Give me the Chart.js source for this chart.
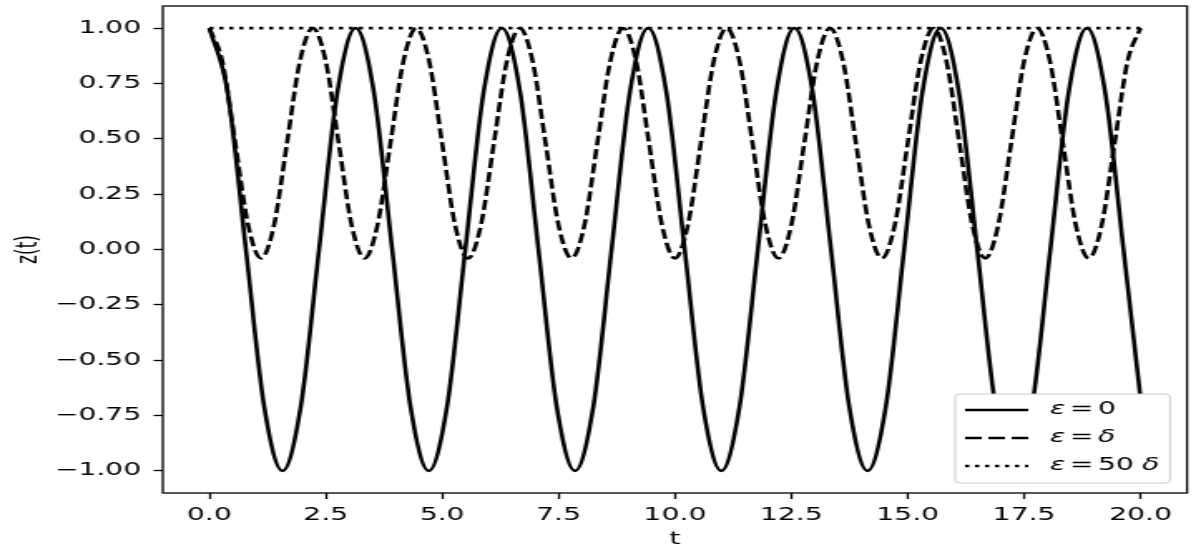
<!DOCTYPE html>
<html>
<head>
<meta charset="utf-8">
<script src="https://cdn.jsdelivr.net/npm/chart.js@4"></script>
<style>
  html, body { margin: 0; padding: 0; background: #fff; overflow: hidden; }
  /* the reference figure is stretched sideways, so draw narrow and widen */
  #wrap { width: 720px; height: 550px; transform: scaleX(1.66111); transform-origin: 0 0; }
  canvas { display: block; }
</style>
</head>
<body>
<div id="wrap"><canvas id="canvas" width="720" height="550"></canvas></div>
<script>
// epsilon = 0
const tSolid = [0, 0.393, 0.785, 1.178, 1.571, 1.963, 2.356, 2.749, 3.142, 3.534, 3.927, 4.320, 4.712,
  5.105, 5.498, 5.890, 6.283, 6.676, 7.069, 7.461, 7.854, 8.247, 8.639, 9.032, 9.425, 9.817, 10.210,
  10.603, 10.996, 11.388, 11.781, 12.174, 12.566, 12.959, 13.352, 13.744, 14.137, 14.530, 14.923,
  15.315, 15.708, 16.101, 16.493, 16.886, 17.279, 17.671, 18.064, 18.457, 18.850, 19.242, 19.635, 20.0];
const zSolid = [1, 0.71, 0, -0.71, -1, -0.71, 0, 0.71,
  1, 0.71, 0, -0.71, -1, -0.71, 0, 0.71,
  1, 0.71, 0, -0.71, -1, -0.71, 0, 0.71,
  1, 0.71, 0, -0.71, -1, -0.71, 0, 0.71,
  1, 0.71, 0, -0.71, -1, -0.71, 0, 0.71,
  1, 0.71, 0, -0.71, -1, -0.71, 0, 0.71,
  1, 0.71, 0, -0.67];

// epsilon = delta
const tDashed = [0, 0.278, 0.556, 0.833, 1.111, 1.389, 1.667, 1.944, 2.222, 2.5, 2.778, 3.056, 3.333,
  3.611, 3.889, 4.167, 4.444, 4.722, 5.0, 5.278, 5.556, 5.833, 6.111, 6.389, 6.667, 6.944, 7.222, 7.5,
  7.778, 8.056, 8.333, 8.611, 8.889, 9.167, 9.444, 9.722, 10.0, 10.278, 10.556, 10.833, 11.111, 11.389,
  11.667, 11.944, 12.222, 12.5, 12.778, 13.056, 13.333, 13.611, 13.889, 14.167, 14.444, 14.722, 15.0,
  15.278, 15.556, 15.833, 16.111, 16.389, 16.667, 16.944, 17.222, 17.5, 17.778, 18.056, 18.333,
  18.611, 18.889, 19.167, 19.444, 19.722, 20.0];
const zDashed = [1, 0.85, 0.48, 0.11, -0.04, 0.11, 0.48, 0.85,
  1, 0.85, 0.48, 0.11, -0.04, 0.11, 0.48, 0.85,
  1, 0.85, 0.48, 0.11, -0.04, 0.11, 0.48, 0.85,
  1, 0.85, 0.48, 0.11, -0.04, 0.11, 0.48, 0.85,
  1, 0.85, 0.48, 0.11, -0.04, 0.11, 0.48, 0.85,
  1, 0.85, 0.48, 0.11, -0.04, 0.11, 0.48, 0.85,
  1, 0.85, 0.48, 0.11, -0.04, 0.11, 0.48, 0.85,
  1, 0.85, 0.48, 0.11, -0.04, 0.11, 0.48, 0.85,
  1, 0.85, 0.48, 0.11, -0.04, 0.11, 0.48, 0.85,
  1];

// epsilon = 50 delta
const tDotted = [0, 20];
const zDotted = [1, 1];

const xTicks = [0, 2.5, 5, 7.5, 10, 12.5, 15, 17.5, 20];
const yTicks = [-1, -0.75, -0.5, -0.25, 0, 0.25, 0.5, 0.75, 1];

const FONT = "DejaVu Sans";
Chart.defaults.font.family = FONT;
Chart.defaults.font.size = 17;
Chart.defaults.color = "#000";

function pts(xs, ys) {
  return xs.map((x, i) => ({ x: x, y: ys[i] }));
}

let styles = [
  { dash: [], value: "0" },
  { dash: [10, 4], value: "δ" },
  { dash: [2.5, 3.5], value: "50δ" },
];

// box around the axes and the legend in the lower right corner
const frameAndLegend = {
  id: "frameAndLegend",
  afterDatasetsDraw(chart) {
    let ctx = chart.ctx;
    let a = chart.chartArea;
    ctx.save();
    ctx.strokeStyle = "#000";
    ctx.lineWidth = 1.3;
    ctx.setLineDash([]);
    ctx.strokeRect(a.left, a.top, a.right - a.left, a.bottom - a.top);

    let w = 129.4, h = 89;
    let bx = a.right - 10.2 - w;
    let by = a.bottom - 10 - h;
    ctx.beginPath();
    ctx.roundRect(bx, by, w, h, 3);
    ctx.fillStyle = "#fff";
    ctx.fill();
    ctx.strokeStyle = "#ccc";
    ctx.lineWidth = 1;
    ctx.stroke();

    styles.forEach((s, i) => {
      let y = by + 16 + i * 28;
      ctx.beginPath();
      ctx.setLineDash(s.dash);
      ctx.strokeStyle = "#000";
      ctx.lineWidth = 2.6;
      ctx.moveTo(bx + 6, y);
      ctx.lineTo(bx + 44, y);
      ctx.stroke();
      ctx.setLineDash([]);

      ctx.fillStyle = "#000";
      ctx.textBaseline = "middle";
      ctx.textAlign = "left";
      ctx.font = "italic 17px " + FONT;
      ctx.fillText("ε", bx + 57, y);
      ctx.font = "17px " + FONT;
      ctx.fillText("=", bx + 69, y);
      if (s.value === "0") {
        ctx.fillText("0", bx + 86, y);
      } else if (s.value === "δ") {
        ctx.font = "italic 17px " + FONT;
        ctx.fillText("δ", bx + 86, y);
      } else {
        ctx.fillText("50", bx + 86, y);
        ctx.font = "italic 17px " + FONT;
        ctx.fillText("δ", bx + 112.5, y);
      }
    });
    ctx.restore();
  },
};

let ctx = document.getElementById("canvas").getContext("2d");
let chart = new Chart(ctx, {
  type: "line",
  data: {
    datasets: [
      {
        label: "ε = 0",
        data: pts(tSolid, zSolid),
        borderColor: "#000",
        borderWidth: 2.6,
        pointRadius: 0,
        cubicInterpolationMode: "monotone",
      },
      {
        label: "ε = δ",
        data: pts(tDashed, zDashed),
        borderColor: "#000",
        borderWidth: 2.6,
        borderDash: styles[1].dash,
        pointRadius: 0,
        cubicInterpolationMode: "monotone",
      },
      {
        label: "ε = 50 δ",
        data: pts(tDotted, zDotted),
        borderColor: "#000",
        borderWidth: 2.6,
        borderDash: styles[2].dash,
        pointRadius: 0,
      },
    ],
  },
  options: {
    responsive: false,
    animation: false,
    devicePixelRatio: 1,
    layout: { padding: { top: 6, right: 5.4, left: 0, bottom: 0 } },
    plugins: {
      legend: { display: false },
      tooltip: { enabled: false },
    },
    scales: {
      x: {
        type: "linear",
        min: -1,
        max: 21,
        afterBuildTicks: (scale) => {
          scale.ticks = xTicks.map((v) => ({ value: v }));
        },
        afterFit: (scale) => {
          scale.height = 57;
          scale.paddingLeft = 0;
          scale.paddingRight = 0;
        },
        ticks: {
          padding: 6,
          maxRotation: 0,
          callback: (v) => v.toFixed(1),
        },
        grid: {
          drawOnChartArea: false,
          drawTicks: true,
          tickLength: 6,
          tickWidth: 1.3,
          tickColor: "#000",
        },
        border: { display: false },
        title: { display: true, text: "t", padding: { top: 0, bottom: 0 } },
      },
      y: {
        type: "linear",
        min: -1.1,
        max: 1.1,
        afterBuildTicks: (scale) => {
          scale.ticks = yTicks.map((v) => ({ value: v }));
        },
        afterFit: (scale) => {
          scale.width = 98;
          scale.paddingTop = 0;
          scale.paddingBottom = 0;
        },
        ticks: {
          padding: 7.5,
          callback: (v) => v.toFixed(2).replace("-", "\u2212"),
        },
        grid: {
          drawOnChartArea: false,
          drawTicks: true,
          tickLength: 5.5,
          tickWidth: 1.3,
          tickColor: "#000",
        },
        border: { display: false },
        title: { display: true, text: "z(t)", padding: { top: 7, bottom: 0 } },
      },
    },
  },
  plugins: [frameAndLegend],
});
</script>
</body>
</html>
